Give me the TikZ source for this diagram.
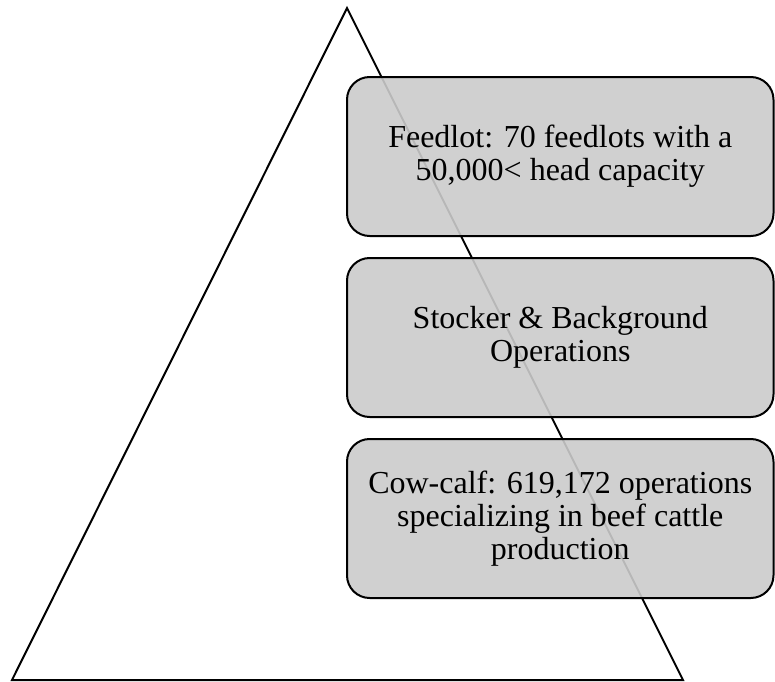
\documentclass[tikz,border=0pt]{standalone}
\usepackage{fontspec}
\setmainfont{Liberation Serif}
\usepackage{tikz}
\usetikzlibrary{positioning}
\definecolor{tierfill}{RGB}{203,203,203}

\begin{document}
\begin{tikzpicture}[x=0.75pt,y=0.75pt,yscale=-1,xscale=1,
	tier/.style={draw, line width=1.5pt, rounded corners=17pt, fill=tierfill, fill opacity=0.9, text opacity=1,
		minimum width=426.5*0.75pt, minimum height=159*0.75pt, align=center, inner sep=0pt,
		font=\fontsize{24}{24.75}\selectfont},
	]
	\useasboundingbox (0,0) rectangle (775,682);
	
	%Shape: Triangle
	\coordinate (apex) at (347,8);
	\coordinate (baseL) at (12,680);
	\coordinate (baseR) at (683,680);
	\draw [line width=1.5pt, line join=miter] (apex) -- (baseR) -- (baseL) -- cycle ;
	
	%Shape: Rounded Rectangles
	\node [tier] (feedlot) at (560.25,156.5) {Feedlot: 70 feedlots with a\\50,000< head capacity};
	\node [tier, below=15pt of feedlot] (stocker) {Stocker \& Background\\Operations};
	\node [tier, below=15pt of stocker] (cowcalf) {Cow-calf: 619,172 operations\\specializing in beef cattle\\production};
\end{tikzpicture}
\end{document}
